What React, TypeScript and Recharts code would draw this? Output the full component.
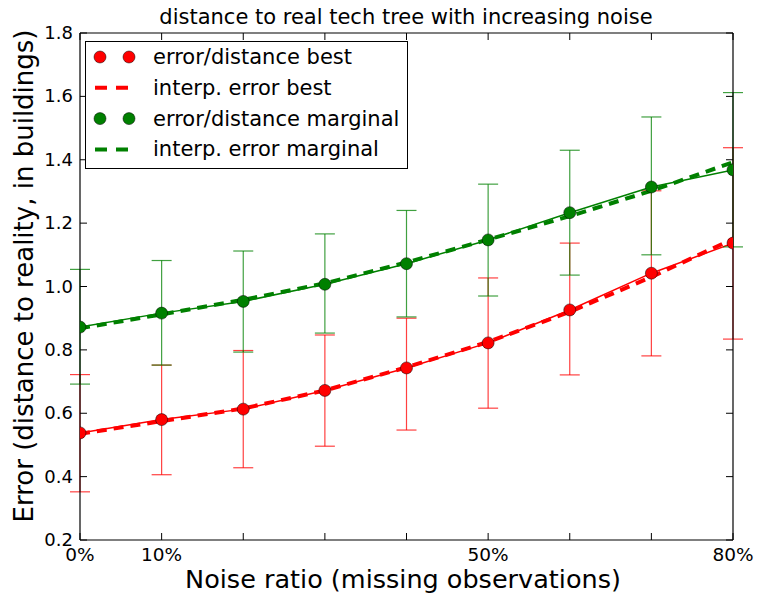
import React from 'react';
import { ComposedChart, Line, XAxis, YAxis, ErrorBar, Legend } from 'recharts';

const noise = [0, 0.1, 0.2, 0.3, 0.4, 0.5, 0.6, 0.7, 0.8];
const bestMean = [0.538, 0.58, 0.613, 0.672, 0.743, 0.822, 0.926, 1.042, 1.137];
const bestLow = [0.352, 0.406, 0.428, 0.496, 0.547, 0.616, 0.721, 0.781, 0.834];
const bestHigh = [0.722, 0.752, 0.798, 0.847, 0.9, 1.027, 1.137, 1.302, 1.438];
const bestInterp = [0.535, 0.575, 0.615, 0.672, 0.745, 0.825, 0.92, 1.03, 1.15];
const margMean = [0.872, 0.916, 0.953, 1.007, 1.072, 1.147, 1.233, 1.314, 1.368];
const margLow = [0.692, 0.752, 0.793, 0.853, 0.904, 0.97, 1.036, 1.1, 1.125];
const margHigh = [1.054, 1.082, 1.112, 1.166, 1.24, 1.323, 1.43, 1.535, 1.612];
const margInterp = [0.868, 0.912, 0.958, 1.01, 1.076, 1.148, 1.222, 1.302, 1.392];
const xTicks = [0, 0.1, 0.2, 0.3, 0.4, 0.5, 0.6, 0.7, 0.8];
const xLabelled = ['0%', '10%', '', '', '', '50%', '', '', '80%'];
const yTicks = [0.2, 0.4, 0.6, 0.8, 1.0, 1.2, 1.4, 1.6, 1.8];

const legendItems = [
  { label: 'error/distance best', color: '#ff0000', kind: 'marker' },
  { label: 'interp. error best', color: '#ff0000', kind: 'dash' },
  { label: 'error/distance marginal', color: '#008000', kind: 'marker' },
  { label: 'interp. error marginal', color: '#008000', kind: 'dash' },
];

const data = noise.map((x, i) => ({
  x,
  best: bestMean[i],
  bestErr: [bestMean[i] - bestLow[i], bestHigh[i] - bestMean[i]],
  bestInterp: bestInterp[i],
  marg: margMean[i],
  margErr: [margMean[i] - margLow[i], margHigh[i] - margMean[i]],
  margInterp: margInterp[i],
}));

const FONT = 'DejaVu Sans';
const TICK_LEN = 7;

const BottomTick = (props: any) => {
  const { x, y, index } = props;
  return (
    <g>
      <line x1={x} x2={x} y1={y} y2={y - TICK_LEN} stroke="#000" strokeWidth={1} />
      <text x={x} y={y + 21} textAnchor="middle" fontFamily={FONT} fontSize={18.5} fill="#000">
        {xLabelled[index]}
      </text>
    </g>
  );
};
const TopTick = (props: any) => {
  const { x, y } = props;
  return <line x1={x} x2={x} y1={y} y2={y + TICK_LEN} stroke="#000" strokeWidth={1} />;
};
const LeftTick = (props: any) => {
  const { x, y, payload } = props;
  return (
    <g>
      <line x1={x} x2={x + TICK_LEN} y1={y} y2={y} stroke="#000" strokeWidth={1} />
      <text x={x - 7} y={y + 6} textAnchor="end" fontFamily={FONT} fontSize={18} fill="#000">
        {Number(payload.value).toFixed(1)}
      </text>
    </g>
  );
};
const RightTick = (props: any) => {
  const { x, y } = props;
  return <line x1={x} x2={x - TICK_LEN} y1={y} y2={y} stroke="#000" strokeWidth={1} />;
};

const LegendBox = () => (
  <svg width={323} height={128} style={{ display: 'block' }}>
    <rect x={0.5} y={0.5} width={322} height={127} fill="#fff" stroke="#000" strokeWidth={1} />
    {legendItems.map((it, i) => {
      const cy = 16 + i * 30.8;
      return (
        <g key={it.label}>
          {it.kind === 'marker' ? (
            <g>
              <circle cx={15} cy={cy} r={6} fill={it.color} stroke="#000" strokeWidth={0.5} />
              <circle cx={44} cy={cy} r={6} fill={it.color} stroke="#000" strokeWidth={0.5} />
            </g>
          ) : (
            <line x1={10} x2={44} y1={cy} y2={cy} stroke={it.color} strokeWidth={4} strokeDasharray="12 9" />
          )}
          <text x={68} y={cy + 7} fontFamily={FONT} fontSize={21} fill="#000">
            {it.label}
          </text>
        </g>
      );
    })}
  </svg>
);

export default function App() {
  return (
    <div style={{ position: 'absolute', left: 0, top: 0, width: 759, height: 594, background: '#fff' }}>
      <ComposedChart
        width={759}
        height={594}
        data={data}
        margin={{ top: 32, right: 25, bottom: 53, left: 79 }}
      >
        <XAxis
          dataKey="x"
          type="number"
          domain={[0, 0.8]}
          ticks={xTicks}
          height={1}
          tickSize={0}
          tickMargin={0}
          tickLine={false}
          tick={<BottomTick />}
          axisLine={{ stroke: '#000', strokeWidth: 1.2 }}
          interval={0}
          allowDataOverflow
        />
        <XAxis
          xAxisId="top"
          orientation="top"
          dataKey="x"
          type="number"
          domain={[0, 0.8]}
          ticks={xTicks}
          height={1}
          tickSize={0}
          tickMargin={0}
          tickLine={false}
          tick={<TopTick />}
          axisLine={{ stroke: '#000', strokeWidth: 1.2 }}
          interval={0}
          allowDataOverflow
        />
        <YAxis
          type="number"
          domain={[0.2, 1.8]}
          ticks={yTicks}
          width={1}
          tickSize={0}
          tickMargin={0}
          tickLine={false}
          tick={<LeftTick />}
          axisLine={{ stroke: '#000', strokeWidth: 1.2 }}
          interval={0}
          allowDataOverflow
        />
        <YAxis
          yAxisId="right"
          orientation="right"
          type="number"
          domain={[0.2, 1.8]}
          ticks={yTicks}
          width={1}
          tickSize={0}
          tickMargin={0}
          tickLine={false}
          tick={<RightTick />}
          axisLine={{ stroke: '#000', strokeWidth: 1.2 }}
          interval={0}
          allowDataOverflow
        />
        <Line
          dataKey="best"
          stroke="#ff0000"
          strokeWidth={1.5}
          dot={{ r: 6, fill: '#ff0000', stroke: '#000', strokeWidth: 0.5 }}
          isAnimationActive={false}
        >
          <ErrorBar dataKey="bestErr" direction="y" width={10} stroke="#ff0000" strokeWidth={1.2} strokeOpacity={0.75} />
        </Line>
        <Line
          dataKey="marg"
          stroke="#008000"
          strokeWidth={1.5}
          dot={{ r: 6, fill: '#008000', stroke: '#000', strokeWidth: 0.5 }}
          isAnimationActive={false}
        >
          <ErrorBar dataKey="margErr" direction="y" width={10} stroke="#008000" strokeWidth={1.2} strokeOpacity={0.75} />
        </Line>
        <Line
          dataKey="bestInterp"
          stroke="#ff0000"
          strokeWidth={4}
          strokeDasharray="10 7"
          dot={false}
          isAnimationActive={false}
        />
        <Line
          dataKey="margInterp"
          stroke="#008000"
          strokeWidth={4}
          strokeDasharray="10 7"
          dot={false}
          isAnimationActive={false}
        />
        <Legend
          layout="vertical"
          align="center"
          verticalAlign="middle"
          content={() => <LegendBox />}
          wrapperStyle={{ position: 'absolute', left: 85, top: 41, width: 323, height: 128 }}
        />
        <text x={406} y={24} textAnchor="middle" fontFamily={FONT} fontSize={21} fill="#000">
          distance to real tech tree with increasing noise
        </text>
        <text x={403} y={588} textAnchor="middle" fontFamily={FONT} fontSize={25.5} fill="#000">
          Noise ratio (missing observations)
        </text>
        <text
          x={33}
          y={276}
          textAnchor="middle"
          fontFamily={FONT}
          fontSize={26}
          fill="#000"
          transform="rotate(-90 33 276)"
        >
          Error (distance to reality, in buildings)
        </text>
      </ComposedChart>
    </div>
  );
}
